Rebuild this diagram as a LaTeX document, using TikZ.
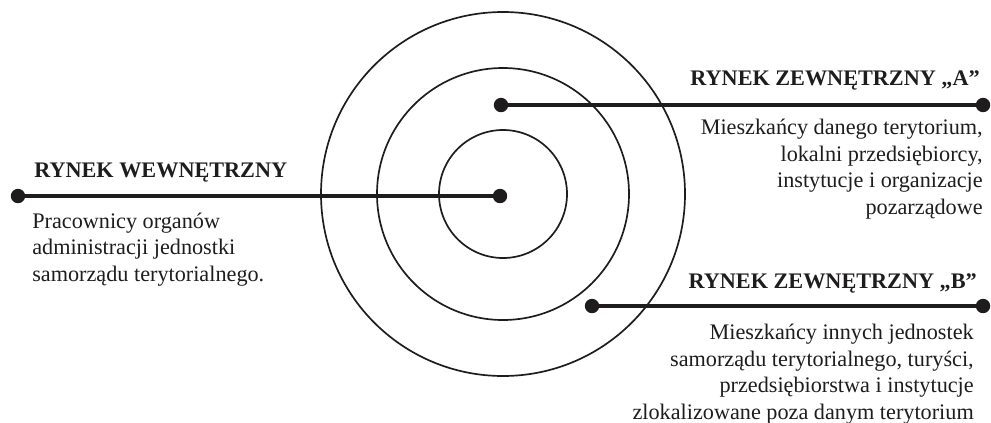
\documentclass[tikz,border=0pt]{standalone}
\usepackage{fontspec}
\setmainfont{Liberation Serif}
\usepackage{xcolor}
\usepackage{tikz}
\usetikzlibrary{positioning}
\definecolor{ink}{RGB}{30,28,29}
\tikzset{
    ring/.style={draw=ink, line width=1.2pt},
    wire/.style={draw=ink, line width=2.3pt},
    dot/.style={circle, fill=ink, inner sep=0pt, minimum size=0.36cm},
    head/.style={inner sep=0pt, font=\fontsize{15.8}{18.8}\selectfont\bfseries, color=ink},
    desc/.style={inner sep=0pt, font=\fontsize{15.8}{18.8}\selectfont, color=ink}
}
\begin{document}
\begin{tikzpicture}[x=0.025cm,y=-0.025cm]
\useasboundingbox (0,0) rectangle (991,422);
% rings
\draw[ring] (503,194) circle (64);
\draw[ring] (503,194) circle (126);
\draw[ring] (503,194) circle (182);
% inner market
\node[dot] (cW) at (500,196) {};
\node[dot] (eW) at (18,196) {};
\draw[wire] (eW) -- (cW);
\node[head, anchor=base west] (hW) at (34,177) {RYNEK WEWNĘTRZNY};
% base of a multi-line node = its last line
\node[desc, anchor=base west, align=left] (tW) at (32,281) {Pracownicy organów\\administracji jednostki\\samorządu terytorialnego.};
% external market A
\node[dot] (dA) at (501,105) {};
\node[dot] (eA) at (983,105) {};
\draw[wire] (dA) -- (eA);
\node[head, anchor=base east] (hA) at (980,85) {RYNEK ZEWNĘTRZNY „A”};
\node[desc, anchor=base east, align=right] (tA) at (983,214) {Mieszkańcy danego terytorium,\\lokalni przedsiębiorcy,\\instytucje i organizacje\\pozarządowe};
% external market B
\node[dot] (dB) at (592,306) {};
\node[dot] (eB) at (983,306) {};
\draw[wire] (dB) -- (eB);
\node[head, anchor=base east] (hB) at (977,288) {RYNEK ZEWNĘTRZNY „B”};
\node[desc, anchor=base east, align=right] (tB) at (974,419) {Mieszkańcy innych jednostek\\samorządu terytorialnego, turyści,\\przedsiębiorstwa i instytucje\\zlokalizowane poza danym terytorium};
\end{tikzpicture}
\end{document}
